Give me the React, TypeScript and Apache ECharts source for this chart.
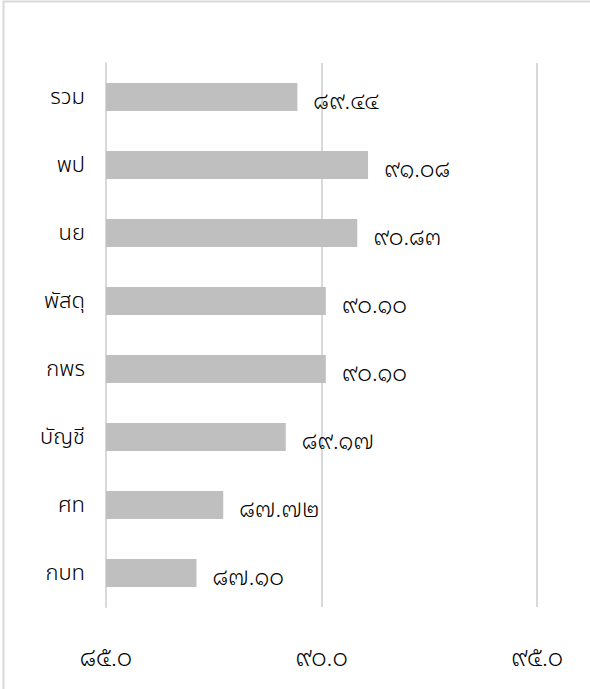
import React, { useEffect, useRef } from "react";
import * as echarts from "echarts";

const categories = ["รวม", "พป", "นย", "พัสดุ", "กพร", "บัญชี", "ศท", "กบท"];
const values = [89.44, 91.08, 90.83, 90.1, 90.1, 89.17, 87.72, 87.1];
const axisMin = 85;
const axisMax = 95;
const axisInterval = 5;

const thaiDigits = ["๐", "๑", "๒", "๓", "๔", "๕", "๖", "๗", "๘", "๙"];
const toThai = (s: string) => s.replace(/[0-9]/g, (d) => thaiDigits[Number(d)]);

export default function App() {
  const ref = useRef<HTMLDivElement>(null);
  useEffect(() => {
    if (!ref.current) return;
    const chart = echarts.init(ref.current, null, { renderer: "svg" });
    const catFont = "'Noto Sans Thai', sans-serif";
    const numFont = "'Noto Sans Thai Looped', 'Noto Serif Thai', sans-serif";
    chart.setOption({
      animation: false,
      backgroundColor: "#ffffff",
      graphic: [
        {
          type: "rect",
          shape: { x: 3.5, y: 1.5, width: 700, height: 800 },
          style: { fill: "none", stroke: "#d9d9d9", lineWidth: 2 },
          silent: true,
        },
      ],
      grid: { left: 106, right: 53, top: 63, bottom: 82, containLabel: false },
      xAxis: {
        type: "value",
        min: axisMin,
        max: axisMax,
        interval: axisInterval,
        axisLine: { show: false },
        axisTick: { show: false },
        splitLine: { show: true, lineStyle: { color: "#d9d9d9", width: 2 } },
        axisLabel: {
          margin: 36,
          fontSize: 24,
          color: "#000",
          fontFamily: numFont,
          fontWeight: 300,
          formatter: (v: number) => toThai(v.toFixed(1)),
        },
      },
      yAxis: {
        type: "category",
        data: categories,
        inverse: true,
        axisLine: { show: true, lineStyle: { color: "#d9d9d9", width: 2 } },
        axisTick: { show: false },
        axisLabel: {
          fontSize: 22,
          color: "#000",
          margin: 21,
          fontFamily: catFont,
          fontWeight: 300,
        },
      },
      series: [
        {
          type: "bar",
          data: values,
          barWidth: 28,
          itemStyle: { color: "#bfbfbf" },
          label: {
            show: true,
            position: "right",
            distance: 16,
            offset: [0, 1],
            fontSize: 23,
            color: "#000",
            fontFamily: numFont,
            fontWeight: 300,
            formatter: (p: any) => toThai(Number(p.value).toFixed(2)),
          },
        },
      ],
    });
    return () => chart.dispose();
  }, []);
  return (
    <div
      ref={ref}
      style={{ position: "absolute", left: 0, top: 0, width: 590, height: 689 }}
    />
  );
}
